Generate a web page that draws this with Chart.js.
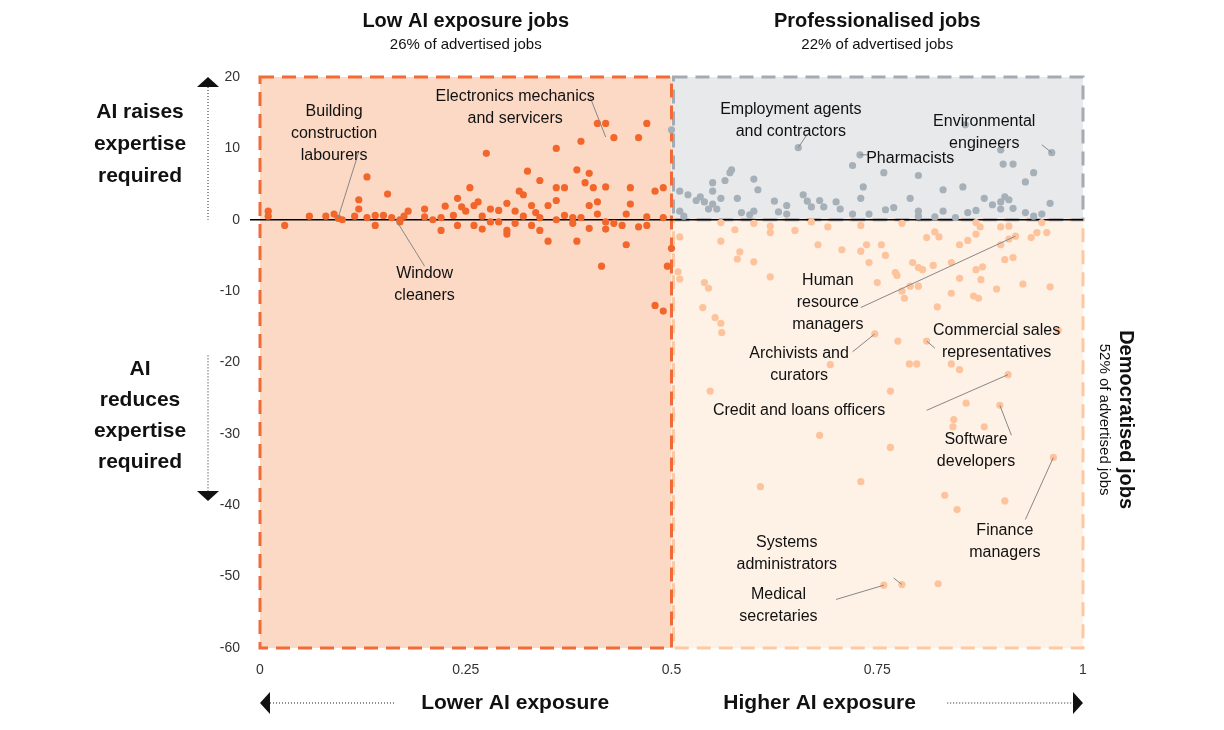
<!DOCTYPE html>
<html>
<head>
<meta charset="utf-8">
<script src="https://cdn.jsdelivr.net/npm/chart.js@4.4.0/dist/chart.umd.min.js"></script>
<style>
  body { margin: 0; background: #fff; }
  #wrap { width: 1224px; height: 730px; }
</style>
</head>
<body>
<div id="wrap"><canvas id="chart"></canvas></div>
<script>
// AI exposure (x) vs change in expertise required (y)
const lowExposureJobs = [
  [0.01,1.2],[0.01,0.5],[0.03,-0.8],[0.06,0.5],[0.08,0.5],[0.09,0.8],[0.095,0.2],[0.1,0],[0.115,0.5],[0.12,1.5],
  [0.12,2.8],[0.13,6],[0.13,0.3],[0.14,-0.8],[0.14,0.6],[0.15,0.6],[0.155,3.6],[0.16,0.3],[0.17,0],[0.17,-0.3],
  [0.175,0.5],[0.18,1.2],[0.2,0.4],[0.2,1.5],[0.21,0],[0.22,0.3],[0.22,-1.5],[0.225,1.9],[0.235,0.6],[0.24,-0.8],
  [0.24,3],[0.245,1.8],[0.25,1.2],[0.255,4.5],[0.26,2],[0.26,-0.8],[0.265,2.5],[0.27,-1.3],[0.27,0.5],[0.275,9.3],
  [0.28,1.5],[0.28,-0.3],[0.29,1.3],[0.29,-0.3],[0.3,2.3],[0.3,-1.5],[0.3,-2],[0.31,1.2],[0.31,-0.5],[0.315,4],
  [0.32,3.5],[0.32,0.5],[0.325,6.8],[0.33,2],[0.33,-0.8],[0.335,1],[0.34,0.3],[0.34,-1.5],[0.34,5.5],[0.35,2],
  [0.35,-3],[0.36,10],[0.36,4.5],[0.36,0],[0.36,2.7],[0.37,0.6],[0.37,4.5],[0.38,0.3],[0.38,-0.5],[0.385,-3],
  [0.385,7],[0.39,11],[0.39,0.3],[0.395,5.2],[0.4,2],[0.4,-1.2],[0.4,6.5],[0.405,4.5],[0.41,2.5],[0.41,0.8],
  [0.415,-6.5],[0.42,-0.3],[0.42,-1.3],[0.42,4.6],[0.41,13.5],[0.42,13.5],[0.43,11.5],[0.43,-0.5],[0.44,-0.8],[0.445,-3.5],
  [0.445,0.8],[0.45,2.2],[0.45,4.5],[0.46,-1],[0.46,11.5],[0.47,-0.8],[0.47,13.5],[0.47,0.4],[0.48,4],[0.49,4.5],
  [0.49,0.3],[0.5,-4],[0.48,-12],[0.49,-12.8],[0.495,-6.5]
];
const professionalisedJobs = [
  [0.5,12.6],[0.654,10.1],[0.729,9.1],[0.72,7.6],[0.857,13.3],[0.962,9.4],[0.9,9.8],[0.903,7.8],[0.915,7.8],[0.94,6.6],
  [0.93,5.3],[0.758,6.6],[0.8,6.2],[0.733,4.6],[0.83,4.2],[0.854,4.6],[0.573,7],[0.571,6.6],[0.565,5.5],[0.55,5.2],
  [0.55,4],[0.6,5.7],[0.605,4.2],[0.51,4],[0.52,3.5],[0.53,2.7],[0.535,3.2],[0.54,2.5],[0.545,1.5],[0.55,2.2],
  [0.555,1.5],[0.56,3],[0.51,1.2],[0.515,0.5],[0.58,3],[0.585,1],[0.595,0.7],[0.6,1.2],[0.625,2.6],[0.63,1.1],
  [0.64,2],[0.64,0.8],[0.66,3.5],[0.665,2.6],[0.67,1.8],[0.68,2.7],[0.685,1.8],[0.7,2.5],[0.705,1.5],[0.72,0.8],
  [0.73,3],[0.74,0.8],[0.76,1.4],[0.77,1.7],[0.79,3],[0.8,1.2],[0.8,0.5],[0.82,0.4],[0.83,1.2],[0.845,0.3],
  [0.86,1],[0.87,1.3],[0.88,3],[0.89,2.1],[0.9,1.5],[0.9,2.5],[0.905,3.2],[0.91,2.8],[0.915,1.6],[0.93,1],
  [0.94,0.5],[0.95,0.8],[0.96,2.3]
];
const democratisedJobs = [
  [0.51,-2.4],[0.56,-3],[0.577,-1.4],[0.583,-4.5],[0.6,-5.9],[0.62,-1.8],[0.62,-8],[0.508,-7.3],[0.51,-8.3],[0.54,-8.8],
  [0.545,-9.6],[0.538,-12.3],[0.553,-13.7],[0.56,-14.5],[0.678,-3.5],[0.707,-4.2],[0.73,-4.4],[0.737,-3.5],[0.755,-3.5],[0.76,-5],
  [0.74,-6],[0.793,-6],[0.8,-6.7],[0.805,-7],[0.818,-6.4],[0.772,-7.4],[0.774,-7.8],[0.75,-8.8],[0.78,-10],[0.783,-11],
  [0.79,-9.3],[0.8,-9.3],[0.823,-12.2],[0.84,-6],[0.85,-8.2],[0.84,-10.3],[0.867,-10.7],[0.873,-11],[0.876,-8.4],[0.87,-7],
  [0.878,-6.6],[0.895,-9.7],[0.905,-5.6],[0.915,-5.3],[0.927,-9],[0.9,-1],[0.918,-2.3],[0.944,-1.8],[0.937,-2.5],[0.9,-3.5],
  [0.91,-2.7],[0.87,-2],[0.875,-1],[0.85,-3.5],[0.86,-2.9],[0.82,-1.7],[0.825,-2.4],[0.81,-2.5],[0.56,-0.4],[0.6,-0.5],
  [0.62,-0.9],[0.67,-0.3],[0.69,-1],[0.73,-0.8],[0.78,-0.5],[0.87,-0.4],[0.91,-0.9],[0.95,-0.4],[0.65,-1.5],[0.58,-5.5],
  [0.561,-15.8],[0.747,-16],[0.775,-17],[0.81,-17],[0.693,-20.3],[0.789,-20.2],[0.798,-20.2],[0.84,-20.2],[0.85,-21],[0.909,-21.7],
  [0.547,-24],[0.766,-24],[0.858,-25.7],[0.899,-26],[0.842,-29],[0.843,-28],[0.88,-29],[0.68,-30.2],[0.766,-31.9],[0.964,-33.3],
  [0.73,-36.7],[0.608,-37.4],[0.832,-38.6],[0.905,-39.4],[0.847,-40.6],[0.758,-51.2],[0.78,-51.1],[0.824,-51],[0.97,-15.5],[0.956,-1.8],
  [0.96,-9.4]
];
const yTicks = [-60, -50, -40, -30, -20, -10, 0, 10, 20];
const xTicks = [0, 0.25, 0.5, 0.75, 1];

// labelled jobs: text lines, text anchor (data), pointer start/end (data)
const jobLabels = [
  { text: ['Building', 'construction', 'labourers'], at: [0.09, 15.2], to: [0.095, 0.3], from: [0.12, 9.5] },
  { text: ['Electronics mechanics', 'and servicers'], at: [0.31, 17.2], to: [0.42, 11.6], from: [0.4, 17.5] },
  { text: ['Window', 'cleaners'], at: [0.2, -7.5], to: [0.165, 0], from: [0.2, -6.5] },
  { text: ['Employment agents', 'and contractors'], at: [0.645, 15.5], to: [0.654, 10.1], from: [0.665, 12] },
  { text: ['Pharmacists'], at: [0.79, 8.5], to: [0.729, 9.1], from: [0.74, 9.1] },
  { text: ['Environmental', 'engineers'], at: [0.88, 13.8], to: [0.962, 9.4], from: [0.95, 10.5] },
  { text: ['Human', 'resource', 'managers'], at: [0.69, -8.5], to: [0.918, -2.3], from: [0.73, -12.3] },
  { text: ['Commercial sales', 'representatives'], at: [0.895, -15.5], to: [0.81, -17], from: [0.82, -18] },
  { text: ['Archivists and', 'curators'], at: [0.655, -18.7], to: [0.747, -16], from: [0.72, -18.5] },
  { text: ['Credit and loans officers'], at: [0.655, -26.7], to: [0.909, -21.7], from: [0.81, -26.7] },
  { text: ['Software', 'developers'], at: [0.87, -30.8], to: [0.899, -26], from: [0.913, -30.2] },
  { text: ['Finance', 'managers'], at: [0.905, -43.5], to: [0.964, -33.3], from: [0.93, -42] },
  { text: ['Systems', 'administrators'], at: [0.64, -45.2], to: [0.78, -51.1], from: [0.77, -50.2] },
  { text: ['Medical', 'secretaries'], at: [0.63, -52.5], to: [0.758, -51.2], from: [0.7, -53.2] }
];

const FONT = '"Helvetica Neue", Arial, "Liberation Sans", sans-serif';

const backgroundPlugin = {
  id: 'quadrants',
  beforeDatasetsDraw(chart) {
    const { ctx, scales: { x, y } } = chart;
    const x0 = x.getPixelForValue(0), xm = x.getPixelForValue(0.5), x1 = x.getPixelForValue(1);
    const yt = y.getPixelForValue(20), yz = y.getPixelForValue(0), yb = y.getPixelForValue(-60);
    ctx.save();
    ctx.fillStyle = '#fcd9c4';
    ctx.fillRect(x0, yt, xm - x0, yb - yt);
    ctx.fillStyle = '#e8e9eb';
    ctx.fillRect(xm, yt, x1 - xm, yz - yt);
    ctx.fillStyle = '#fef1e6';
    ctx.fillRect(xm, yz, x1 - xm, yb - yz);

    ctx.setLineDash([14, 8]);
    ctx.lineWidth = 3;
    ctx.strokeStyle = '#fdc9a3';
    ctx.strokeRect(xm + 2, yz, x1 - xm - 2, yb - yz);
    ctx.strokeStyle = '#a4abb3';
    ctx.strokeRect(xm + 2, yt, x1 - xm - 2, yz - yt);
    ctx.strokeStyle = '#f26a36';
    ctx.strokeRect(x0, yt, xm - x0, yb - yt);

    ctx.setLineDash([]);
    ctx.lineWidth = 1.5;
    ctx.strokeStyle = '#000';
    ctx.beginPath();
    ctx.moveTo(x0 - 10, yz);
    ctx.lineTo(x1, yz);
    ctx.stroke();
    ctx.restore();
  },
  afterDatasetsDraw(chart) {
    const { ctx, chartArea: a, scales: { x, y } } = chart;
    ctx.save();
    ctx.fillStyle = '#111';
    ctx.textAlign = 'center';
    ctx.textBaseline = 'middle';

    // job labels and leader lines
    jobLabels.forEach(l => {
      ctx.strokeStyle = '#888';
      ctx.lineWidth = 1;
      ctx.beginPath();
      ctx.moveTo(x.getPixelForValue(l.from[0]), y.getPixelForValue(l.from[1]));
      ctx.lineTo(x.getPixelForValue(l.to[0]), y.getPixelForValue(l.to[1]));
      ctx.stroke();
      ctx.font = '16px ' + FONT;
      const px = x.getPixelForValue(l.at[0]), py = y.getPixelForValue(l.at[1]);
      l.text.forEach((t, i) => ctx.fillText(t, px, py + i * 22));
    });

    // quadrant titles
    const xl = x.getPixelForValue(0.25), xr = x.getPixelForValue(0.75);
    ctx.font = 'bold 20px ' + FONT;
    ctx.fillText('Low AI exposure jobs', xl, a.top - 56);
    ctx.fillText('Professionalised jobs', xr, a.top - 56);
    ctx.font = '15px ' + FONT;
    ctx.fillText('26% of advertised jobs', xl, a.top - 32);
    ctx.fillText('22% of advertised jobs', xr, a.top - 32);

    // right side rotated title
    ctx.save();
    ctx.translate(a.right + 43, y.getPixelForValue(-28));
    ctx.rotate(Math.PI / 2);
    ctx.font = 'bold 20px ' + FONT;
    ctx.fillText('Democratised jobs', 0, 0);
    ctx.font = '15px ' + FONT;
    ctx.fillText('52% of advertised jobs', 0, 22);
    ctx.restore();

    // left side labels
    ctx.font = 'bold 21px ' + FONT;
    ['AI raises', 'expertise', 'required'].forEach((t, i) => ctx.fillText(t, 140, y.getPixelForValue(15) + i * 32));
    ['AI', 'reduces', 'expertise', 'required'].forEach((t, i) => ctx.fillText(t, 140, y.getPixelForValue(-21) + i * 31));

    // vertical dotted arrows
    const ax = 208;
    ctx.strokeStyle = '#222';
    ctx.lineWidth = 1;
    ctx.setLineDash([1, 2]);
    ctx.beginPath();
    ctx.moveTo(ax, a.top + 10); ctx.lineTo(ax, y.getPixelForValue(0));
    ctx.moveTo(ax, y.getPixelForValue(-19)); ctx.lineTo(ax, y.getPixelForValue(-38));
    ctx.stroke();
    ctx.setLineDash([]);
    ctx.fillStyle = '#111';
    ctx.beginPath();
    ctx.moveTo(ax - 11, a.top + 10); ctx.lineTo(ax + 11, a.top + 10); ctx.lineTo(ax, a.top); ctx.fill();
    const yd = y.getPixelForValue(-38);
    ctx.beginPath();
    ctx.moveTo(ax - 11, yd); ctx.lineTo(ax + 11, yd); ctx.lineTo(ax, yd + 10); ctx.fill();

    // bottom labels
    const by = a.bottom + 55;
    ctx.font = 'bold 21px ' + FONT;
    ctx.fillText('Lower AI exposure', x.getPixelForValue(0.31), by);
    ctx.fillText('Higher AI exposure', x.getPixelForValue(0.68), by);
    ctx.setLineDash([1, 2]);
    ctx.beginPath();
    ctx.moveTo(a.left + 10, by); ctx.lineTo(x.getPixelForValue(0.165), by);
    ctx.moveTo(x.getPixelForValue(0.835), by); ctx.lineTo(a.right - 10, by);
    ctx.stroke();
    ctx.setLineDash([]);
    ctx.beginPath();
    ctx.moveTo(a.left + 10, by - 11); ctx.lineTo(a.left + 10, by + 11); ctx.lineTo(a.left, by); ctx.fill();
    ctx.beginPath();
    ctx.moveTo(a.right - 10, by - 11); ctx.lineTo(a.right - 10, by + 11); ctx.lineTo(a.right, by); ctx.fill();
    ctx.restore();
  }
};

const toPoints = arr => arr.map(([x, y]) => ({ x, y }));

new Chart(document.getElementById('chart'), {
  type: 'scatter',
  data: {
    datasets: [
      { label: 'Democratised', data: toPoints(democratisedJobs), backgroundColor: '#fdc39c', pointRadius: 3.6, borderWidth: 0 },
      { label: 'Professionalised', data: toPoints(professionalisedJobs), backgroundColor: '#a6b0b9', pointRadius: 3.6, borderWidth: 0 },
      { label: 'Low AI exposure', data: toPoints(lowExposureJobs), backgroundColor: '#f2662b', pointRadius: 3.6, borderWidth: 0 }
    ]
  },
  options: {
    responsive: true,
    maintainAspectRatio: false,
    animation: false,
    layout: { padding: { left: 212, right: 141, top: 77, bottom: 52 } },
    plugins: { legend: { display: false }, tooltip: { enabled: false } },
    scales: {
      x: {
        type: 'linear', min: 0, max: 1,
        afterBuildTicks: s => { s.ticks = xTicks.map(v => ({ value: v })); },
        afterFit: s => { s.height = 30; },
        grid: { display: false },
        border: { display: false },
        ticks: { color: '#333', font: { size: 14, family: FONT }, padding: 6,
                 callback: v => String(v) }
      },
      y: {
        type: 'linear', min: -60, max: 20,
        afterBuildTicks: s => { s.ticks = yTicks.map(v => ({ value: v })); },
        afterFit: s => { s.width = 48; },
        grid: { display: false },
        border: { display: false },
        ticks: { color: '#333', font: { size: 14, family: FONT }, padding: 12 }
      }
    }
  },
  plugins: [backgroundPlugin]
});
</script>
</body>
</html>
